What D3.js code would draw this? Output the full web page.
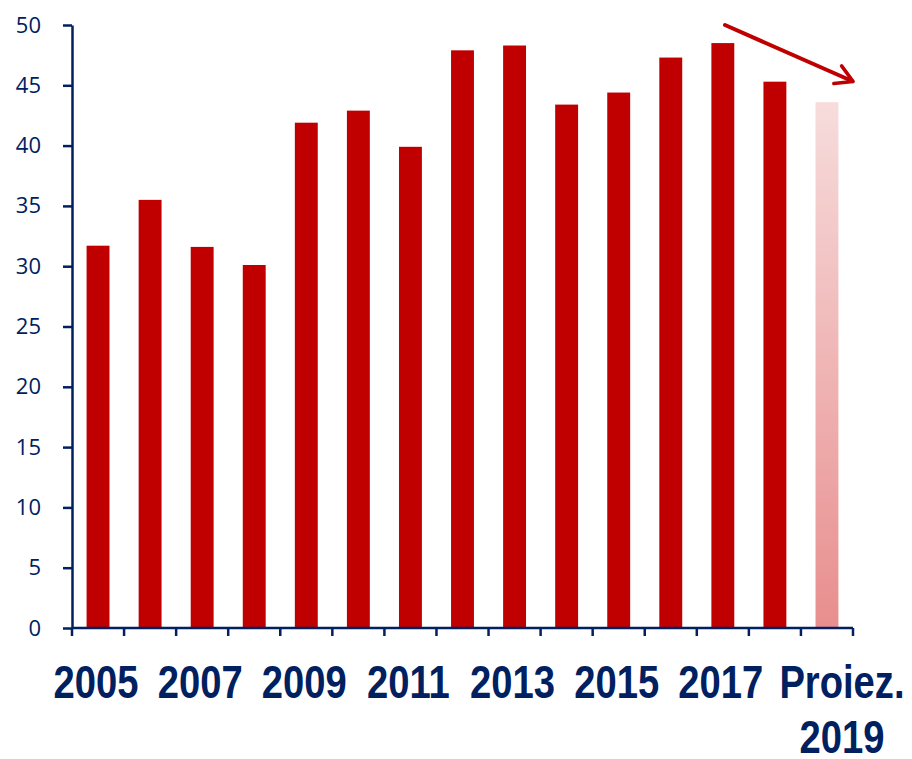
<!DOCTYPE html>
<html>
<head>
<meta charset="utf-8">
<script src="https://cdn.jsdelivr.net/npm/d3@7"></script>
<style>
  body { margin: 0; background: #fff; }
  svg { display: block; }
</style>
</head>
<body>
<div id="chart"></div>
<script>
// values
var years = ["2005","2006","2007","2008","2009","2010","2011","2012","2013","2014","2015","2016","2017","2018","2019"];
var values = [31.7, 35.5, 31.6, 30.1, 41.9, 42.9, 39.9, 47.9, 48.3, 43.4, 44.4, 47.3, 48.5, 45.3, 43.6];
var isProjection = [false,false,false,false,false,false,false,false,false,false,false,false,false,false,true];
var yTicks = [0, 5, 10, 15, 20, 25, 30, 35, 40, 45, 50];
var xLabels = {"2005":"2005","2007":"2007","2009":"2009","2011":"2011","2013":"2013","2015":"2015","2017":"2017","2019":["Proiez.","2019"]};

var width = 912, height = 759;
var margin = {top: 25, right: 59, bottom: 131, left: 72};
var navy = "#002060", red = "#c00000";

var svg = d3.select("#chart").append("svg")
    .attr("width", width)
    .attr("height", height);

var defs = svg.append("defs");
var grad = defs.append("linearGradient")
    .attr("id", "proj-grad")
    .attr("x1", "0%").attr("y1", "0%")
    .attr("x2", "0%").attr("y2", "100%");
grad.append("stop").attr("offset", "0%").attr("stop-color", "#f7dcdc");
grad.append("stop").attr("offset", "100%").attr("stop-color", "#e88e8e");

defs.append("marker")
    .attr("id", "arrowhead")
    .attr("viewBox", "0 0 20 20")
    .attr("refX", 15).attr("refY", 10)
    .attr("markerWidth", 6).attr("markerHeight", 6)
    .attr("markerUnits", "strokeWidth")
    .attr("orient", "auto")
    .append("path")
    .attr("d", "M2,2 L16,10 L2,18")
    .attr("fill", "none")
    .attr("stroke", red)
    .attr("stroke-width", 3)
    .attr("stroke-linecap", "round")
    .attr("stroke-linejoin", "round");

var x = d3.scaleBand()
    .domain(years)
    .range([margin.left, width - margin.right])
    .paddingInner(0.56)
    .paddingOuter(0.28);

var y = d3.scaleLinear()
    .domain([0, 50])
    .range([height - margin.bottom, margin.top]);

// bars
svg.selectAll("rect.bar")
    .data(years)
    .enter().append("rect")
    .attr("class", "bar")
    .attr("x", function(d) { return x(d); })
    .attr("width", x.bandwidth())
    .attr("y", function(d, i) { return y(values[i]); })
    .attr("height", function(d, i) { return y(0) - y(values[i]); })
    .attr("fill", function(d, i) { return isProjection[i] ? "url(#proj-grad)" : red; });

// y axis
var yAxis = svg.append("g")
    .attr("transform", "translate(" + margin.left + ",0)")
    .call(d3.axisLeft(y).tickValues(yTicks).tickSize(9).tickPadding(22).tickSizeOuter(0));
yAxis.select(".domain").attr("stroke", navy).attr("stroke-width", 2.5);
yAxis.selectAll(".tick line").attr("stroke", navy).attr("stroke-width", 2.5);
yAxis.selectAll(".tick text")
    .attr("fill", navy)
    .style("font-family", "'Open Sans', sans-serif")
    .style("font-size", "22px");

// x axis: line with ticks on category boundaries
var xAxis = svg.append("g");
var x0 = margin.left, x1 = width - margin.right, step = x.step();
var edge = function(i) { return x0 + x.paddingOuter() * step - x.paddingInner() * step / 2 + i * step; };
xAxis.append("line")
    .attr("x1", x0).attr("x2", x1)
    .attr("y1", y(0)).attr("y2", y(0))
    .attr("stroke", navy).attr("stroke-width", 2.5);
xAxis.selectAll("line.tick")
    .data(d3.range(years.length + 1))
    .enter().append("line")
    .attr("class", "tick")
    .attr("x1", edge).attr("x2", edge)
    .attr("y1", y(0)).attr("y2", y(0) + 8)
    .attr("stroke", navy).attr("stroke-width", 2.5);

// year labels, bold face squeezed horizontally like Arial Narrow
var labelYears = years.filter(function(d) { return xLabels[d]; });
var lbl = xAxis.selectAll("text.xl")
    .data(labelYears)
    .enter().append("text")
    .attr("class", "xl")
    .attr("transform", function(d) {
        var cx = x(d) + x.bandwidth() / 2 + (Array.isArray(xLabels[d]) ? 15 : -2);
        return "translate(" + cx + "," + (y(0) + 70) + ") scale(0.83,1)";
    })
    .attr("text-anchor", "middle")
    .attr("fill", navy)
    .style("font-family", "'Liberation Sans', Arial, sans-serif")
    .style("font-weight", "bold")
    .style("font-size", "46px");
lbl.each(function(d) {
    var t = d3.select(this), parts = [].concat(xLabels[d]);
    parts.forEach(function(p, k) {
        t.append("tspan")
            .attr("x", 0)
            .attr("dy", k === 0 ? 0 : 55)
            .text(p);
    });
});

// trend arrow
svg.append("line")
    .attr("x1", 725).attr("y1", 25)
    .attr("x2", 852).attr("y2", 81)
    .attr("stroke", red)
    .attr("stroke-width", 4)
    .attr("stroke-linecap", "round")
    .attr("marker-end", "url(#arrowhead)");
</script>
</body>
</html>
